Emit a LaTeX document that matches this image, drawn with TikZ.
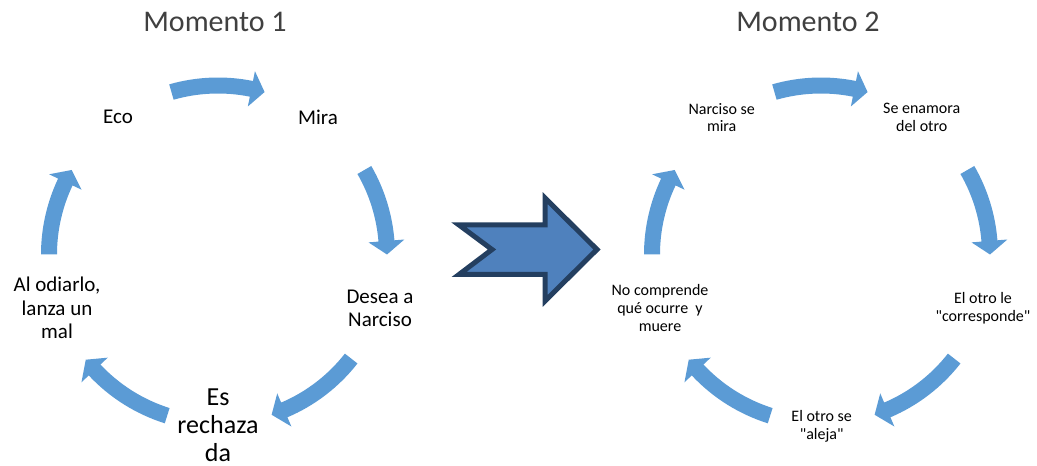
\documentclass[tikz,border=0pt]{standalone}
\usepackage{fontspec}
\setmainfont{Carlito}[Ligatures=TeXOff]
\definecolor{cycblue}{HTML}{5B9BD5}
\definecolor{bigfill}{HTML}{4F81BD}
\definecolor{bigdraw}{HTML}{243F60}
\tikzset{
  cycarrow/.style={fill=cycblue},
  titletext/.style={font=\fontsize{30}{36}\selectfont, text=black!75, anchor=base, inner sep=0pt},
  lbl/.style={font=\fontsize{21}{23.3}\selectfont, align=center, inner sep=0pt},
  lblbig/.style={font=\fontsize{26}{28.2}\selectfont, align=center, inner sep=0pt},
  lblsmall/.style={font=\fontsize{16}{17.7}\selectfont, align=center, inner sep=0pt},
  bigarrow/.style={fill=bigfill, draw=bigdraw, line width=5pt, line join=miter}
}
% #1,#2 centre, #3 tail angle, #4 tip angle (clockwise arrow)
\newcommand\cycarc[4]{%
  \pgfmathsetmacro\hbang{#4+4.6}%
  \fill[cycarrow, shift={(#1,#2)}] (#3:177pt) arc[start angle=#3, end angle=\hbang, radius=177pt]
    -- (\hbang:187pt) -- (#4:169pt) -- (\hbang:151pt) -- (\hbang:161pt)
    arc[start angle=\hbang, end angle=#3, radius=161pt] -- cycle;}
\begin{document}
\begin{tikzpicture}[x=1pt,y=1pt]
\useasboundingbox (0,0) rectangle (1037,466);
% titles
\node[titletext] (t1) at (215,434.3) {Momento 1};
\node[titletext] (t2) at (808,434.3) {Momento 2};
% cycle 1 arrows
\cycarc{218}{211.5}{106}{74}
\cycarc{218}{211.5}{30}{0}
\cycarc{218}{211.5}{-38}{-71.5}
\cycarc{218}{211.5}{-107.5}{-141.5}
\cycarc{218}{211.5}{180}{150}
% cycle 2 arrows
\cycarc{821}{211.5}{106}{74}
\cycarc{821}{211.5}{30}{0}
\cycarc{821}{211.5}{-38}{-71.5}
\cycarc{821}{211.5}{-107.5}{-141.5}
\cycarc{821}{211.5}{180}{150}
% cycle 1 labels
\node[lbl] (eco) at (118,348.7) {Eco};
\node[lbl] (mira) at (318,348.7) {Mira};
\node[lbl] (desea) at (380,158) {Desea a\\Narciso};
\node[lblbig] (rech) at (218,41) {Es\\rechaza\\da};
\node[lbl] (odia) at (57,158) {Al odiarlo,\\lanza un\\mal};
% cycle 2 labels
\node[lblsmall] (nmira) at (721.7,348.3) {Narciso se\\mira};
\node[lblsmall] (enam) at (921.7,348.3) {Se enamora\\del otro};
\node[lblsmall] (corr) at (983,158) {El otro le\\"corresponde"};
\node[lblsmall] (aleja) at (821.7,40) {El otro se\\"aleja"};
\node[lblsmall] (muere) at (660,158) {No comprende\\qué ocurre\ \ y\\muere};
% big arrow
\draw[bigarrow] (459,241) -- (492,216.5) -- (459,191.5) -- (545,191.5) -- (545,165)
  -- (597,216.5) -- (545,268) -- (545,241) -- cycle;
\end{tikzpicture}
\end{document}
